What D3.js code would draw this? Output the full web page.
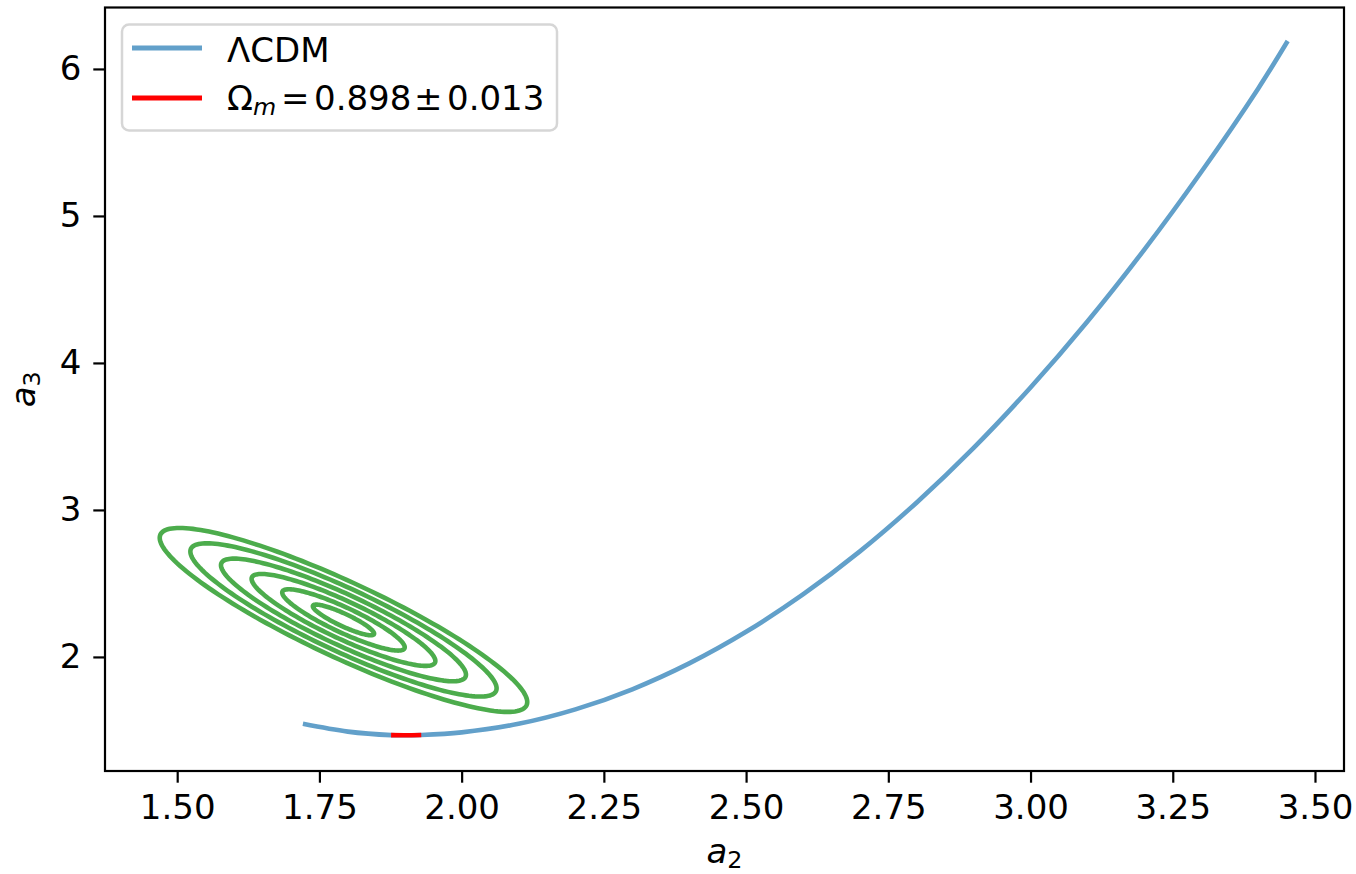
<!DOCTYPE html>
<html>
<head>
<meta charset="utf-8">
<script src="https://cdn.jsdelivr.net/npm/d3@7"></script>
<style>
body{margin:0;background:#fff}
svg text{font-family:"DejaVu Sans",sans-serif;fill:#000}
</style>
</head>
<body>
<div id="graphic"></div>
<script>
// LCDM track in the (a2, a3) plane
const lcdmA2 = [1.721, 1.800, 1.876, 1.900, 1.929, 2.000, 2.100, 2.200, 2.300, 2.400, 2.500, 2.600, 2.700, 2.800, 2.900, 3.000, 3.100, 3.200, 3.300, 3.400, 3.452];
const lcdmA3 = [1.545, 1.492, 1.468, 1.467, 1.469, 1.487, 1.545, 1.643, 1.780, 1.956, 2.171, 2.425, 2.718, 3.051, 3.422, 3.833, 4.282, 4.771, 5.299, 5.866, 6.190];

// stretch of the track covered by the Omega_m fit
const fitA2 = [1.876, 1.900, 1.929];
const fitA3 = [1.468, 1.467, 1.469];

// contour ellipses: centre, axis vectors of the first level, levels
const contourCentre = [1.7923, 2.2517];
const contourAxisU = [0.05363, -0.09679];
const contourAxisV = [-0.00467, -0.03879];
const contourLevels = [1, 2, 3, 4, 5, 6];

const xTicks = [1.5, 1.75, 2.0, 2.25, 2.5, 2.75, 3.0, 3.25, 3.5];
const yTicks = [2, 3, 4, 5, 6];
const xDomain = [1.3731, 3.551];
const yDomain = [1.224, 6.418];

const W = 1356, H = 874;
const FONT = 34;
const LINE_W = 4.6;
const SPINE_W = 2.2;
const TICK_LEN = 11.7, TICK_PAD = 11.9;
const SUB_SHIFT = 5;

const BLUE = "#62a0ca";
const GREEN = "#4cac4c";
const RED = "#ff0000";

var margin = {top: 7.5, left: 105, right: W - 1344, bottom: H - 771};

var svg = d3.select("#graphic")
    .append("svg")
    .attr("width", W)
    .attr("height", H);

var x = d3.scaleLinear()
    .domain(xDomain)
    .range([margin.left, W - margin.right]);

var y = d3.scaleLinear()
    .domain(yDomain)
    .range([H - margin.bottom, margin.top]);

var line = d3.line()
    .x(d => x(d[0]))
    .y(d => y(d[1]))
    .curve(d3.curveCatmullRom.alpha(0.5));

// ---- contours
function ellipsePoints(k){
    return d3.range(0, 360, 2).map(function(deg){
        var t = deg * Math.PI / 180;
        return [
            contourCentre[0] + k * (Math.cos(t) * contourAxisU[0] + Math.sin(t) * contourAxisV[0]),
            contourCentre[1] + k * (Math.cos(t) * contourAxisU[1] + Math.sin(t) * contourAxisV[1])
        ];
    });
}

var plot = svg.append("g");

plot.selectAll(".contour")
    .data(contourLevels)
    .enter()
    .append("path")
    .attr("class", "contour")
    .attr("d", k => d3.line().x(d => x(d[0])).y(d => y(d[1])).curve(d3.curveLinearClosed)(ellipsePoints(k)))
    .style("fill", "none")
    .attr("stroke", GREEN)
    .attr("stroke-width", LINE_W);

// ---- LCDM track and fitted piece
plot.append("path")
    .datum(lcdmA2.map((v, i) => [v, lcdmA3[i]]))
    .attr("d", line)
    .style("fill", "none")
    .attr("stroke", BLUE)
    .attr("stroke-width", LINE_W);

plot.append("path")
    .datum(fitA2.map((v, i) => [v, fitA3[i]]))
    .attr("d", line)
    .style("fill", "none")
    .attr("stroke", RED)
    .attr("stroke-width", LINE_W);

// ---- axes
var xAxis = d3.axisBottom(x)
    .tickValues(xTicks)
    .tickFormat(d3.format(".2f"))
    .tickSizeInner(TICK_LEN)
    .tickSizeOuter(0)
    .tickPadding(TICK_PAD);

var yAxis = d3.axisLeft(y)
    .tickValues(yTicks)
    .tickFormat(d3.format("d"))
    .tickSizeInner(TICK_LEN)
    .tickSizeOuter(0)
    .tickPadding(TICK_PAD);

svg.append("g")
    .attr("transform", `translate(0,${H - margin.bottom})`)
    .call(xAxis)
    .call(g => g.select(".domain").remove())
    .call(g => g.selectAll(".tick line").attr("stroke", "#000").attr("stroke-width", SPINE_W))
    .call(g => g.selectAll(".tick text").attr("font-size", FONT).attr("font-family", "DejaVu Sans"));

svg.append("g")
    .attr("transform", `translate(${margin.left},0)`)
    .call(yAxis)
    .call(g => g.select(".domain").remove())
    .call(g => g.selectAll(".tick line").attr("stroke", "#000").attr("stroke-width", SPINE_W))
    .call(g => g.selectAll(".tick text").attr("font-size", FONT).attr("font-family", "DejaVu Sans"));

// frame
svg.append("rect")
    .attr("x", margin.left)
    .attr("y", margin.top)
    .attr("width", W - margin.left - margin.right)
    .attr("height", H - margin.top - margin.bottom)
    .style("fill", "none")
    .attr("stroke", "#000")
    .attr("stroke-width", SPINE_W);

// axis labels (mathtext style a_2, a_3)
var xl = svg.append("text")
    .attr("x", (margin.left + W - margin.right) / 2)
    .attr("y", 863)
    .attr("text-anchor", "middle")
    .attr("font-size", FONT);
xl.append("tspan").attr("font-style", "italic").text("a");
xl.append("tspan").attr("font-size", FONT * 0.7).attr("dy", SUB_SHIFT).text("2");

var yl = svg.append("text")
    .attr("transform", `translate(35,${(margin.top + H - margin.bottom) / 2}) rotate(-90)`)
    .attr("text-anchor", "middle")
    .attr("font-size", FONT);
yl.append("tspan").attr("font-style", "italic").text("a");
yl.append("tspan").attr("font-size", FONT * 0.7).attr("dy", SUB_SHIFT).text("3");

// ---- legend
var legend = svg.append("g");

legend.append("rect")
    .attr("x", margin.left + 0.5 * FONT)
    .attr("y", margin.top + 0.5 * FONT)
    .attr("width", 435)
    .attr("height", 106)
    .attr("rx", 7)
    .style("fill", "#fff")
    .style("fill-opacity", 0.8)
    .attr("stroke", "#d6d6d6")
    .attr("stroke-width", 2.5);

var legendRows = [{color: BLUE, y: 48}, {color: RED, y: 98}];

legend.selectAll(".handle")
    .data(legendRows)
    .enter()
    .append("line")
    .attr("class", "handle")
    .attr("x1", 132)
    .attr("x2", 202)
    .attr("y1", d => d.y)
    .attr("y2", d => d.y)
    .attr("stroke", d => d.color)
    .attr("stroke-width", 5);

legend.append("text")
    .attr("x", 227)
    .attr("y", 62)
    .attr("font-size", FONT)
    .text("ΛCDM");

// Omega_m = 0.898 ± 0.013, spaced like matplotlib mathtext
var om = legend.append("text")
    .attr("x", 227)
    .attr("y", 110)
    .attr("font-size", FONT);
om.append("tspan").text("Ω");
om.append("tspan").attr("font-style", "italic").attr("font-size", FONT * 0.7).attr("dy", SUB_SHIFT).text("m");
om.append("tspan").attr("x", 281).attr("dy", -SUB_SHIFT).text("=");
om.append("tspan").attr("x", 314).text("0.898");
om.append("tspan").attr("x", 414).text("±");
om.append("tspan").attr("x", 447).text("0.013");
</script>
</body>
</html>
